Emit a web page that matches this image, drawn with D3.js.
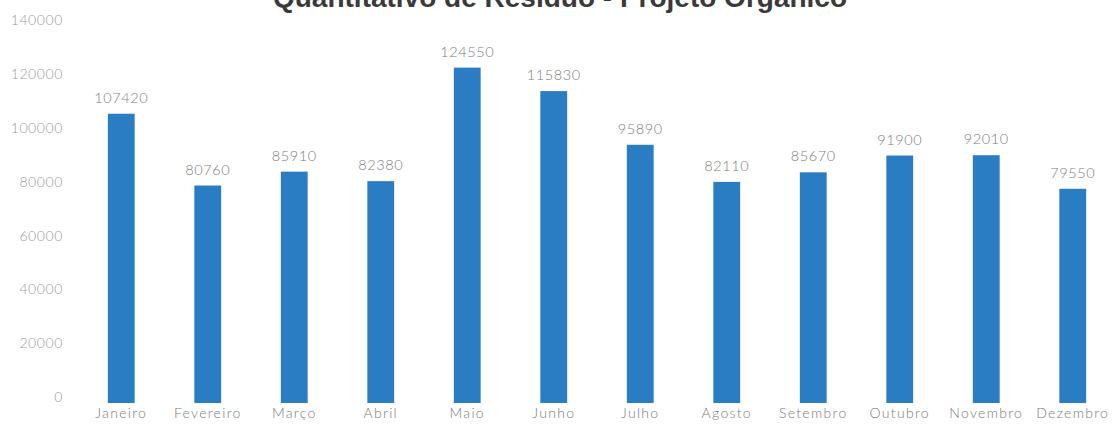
<!DOCTYPE html>
<html>
<head>
<meta charset="utf-8">
<script src="https://cdn.jsdelivr.net/npm/d3@7"></script>
<style>
  html, body { margin: 0; padding: 0; background: #ffffff; }
  svg { display: block; }
</style>
</head>
<body>
<svg id="chart" width="1116" height="434"></svg>
<script>
// Monthly totals, Projeto Orgânico
const months = ["Janeiro", "Fevereiro", "Março", "Abril", "Maio", "Junho",
                "Julho", "Agosto", "Setembro", "Outubro", "Novembro", "Dezembro"];
const totals = [107420, 80760, 85910, 82380, 124550, 115830,
                95890, 82110, 85670, 91900, 92010, 79550];
const yTicks = [0, 20000, 40000, 60000, 80000, 100000, 120000, 140000];
const title = "Quantitativo de Resíduo - Projeto Orgânico";

const svg = d3.select("#chart");

const x = d3.scaleBand()
  .domain(months)
  .range([78, 1116])
  .paddingInner(0.69)
  .paddingOuter(0.345);

const y = d3.scaleLinear()
  .domain([0, 140000])
  .range([403, 26]);

// Title, sitting against the top edge of the page
svg.append("text")
  .attr("x", 560)
  .attr("y", 7)
  .attr("text-anchor", "middle")
  .attr("font-family", "Liberation Sans, Arial, sans-serif")
  .attr("font-weight", "bold")
  .attr("font-size", 28)
  .attr("fill", "#3a3a3a")
  .text(title);

// Y axis: labels only
const yAxis = d3.axisLeft(y)
  .tickValues(yTicks)
  .tickFormat(d3.format("d"))
  .tickSize(0)
  .tickPadding(0);

const gy = svg.append("g")
  .attr("transform", "translate(63,0)")
  .call(yAxis);
gy.select(".domain").remove();
gy.selectAll("text")
  .attr("dy", "-0.1em")
  .attr("font-family", "Lato, 'Open Sans', sans-serif")
  .attr("font-weight", 300)
  .attr("font-size", 14)
  .attr("letter-spacing", "0.6px")
  .attr("fill", "#9a9a9a");

// X axis: month names
const xAxis = d3.axisBottom(x).tickSize(0).tickPadding(0);
const gx = svg.append("g")
  .attr("transform", "translate(0,407)")
  .call(xAxis);
gx.select(".domain").remove();
gx.selectAll("text")
  .attr("dy", "0.75em")
  .attr("font-family", "Lato, 'Open Sans', sans-serif")
  .attr("font-weight", 300)
  .attr("font-size", 14)
  .attr("letter-spacing", "1.3px")
  .attr("fill", "#7a7a7a");

// Bars
const data = months.map((m, i) => ({ month: m, value: totals[i] }));

svg.append("g")
  .selectAll("rect")
  .data(data)
  .join("rect")
  .attr("x", d => x(d.month))
  .attr("y", d => y(d.value))
  .attr("width", x.bandwidth())
  .attr("height", d => y(0) - y(d.value))
  .attr("fill", "#2a7cc3");

// Value labels above bars
svg.append("g")
  .selectAll("text")
  .data(data)
  .join("text")
  .attr("x", d => x(d.month) + x.bandwidth() / 2)
  .attr("y", d => y(d.value) - 11)
  .attr("text-anchor", "middle")
  .attr("font-family", "Lato, 'Open Sans', sans-serif")
  .attr("font-weight", 300)
  .attr("font-size", 14.5)
  .attr("letter-spacing", "0.6px")
  .attr("fill", "#7d7d7d")
  .text(d => d.value);
</script>
</body>
</html>
